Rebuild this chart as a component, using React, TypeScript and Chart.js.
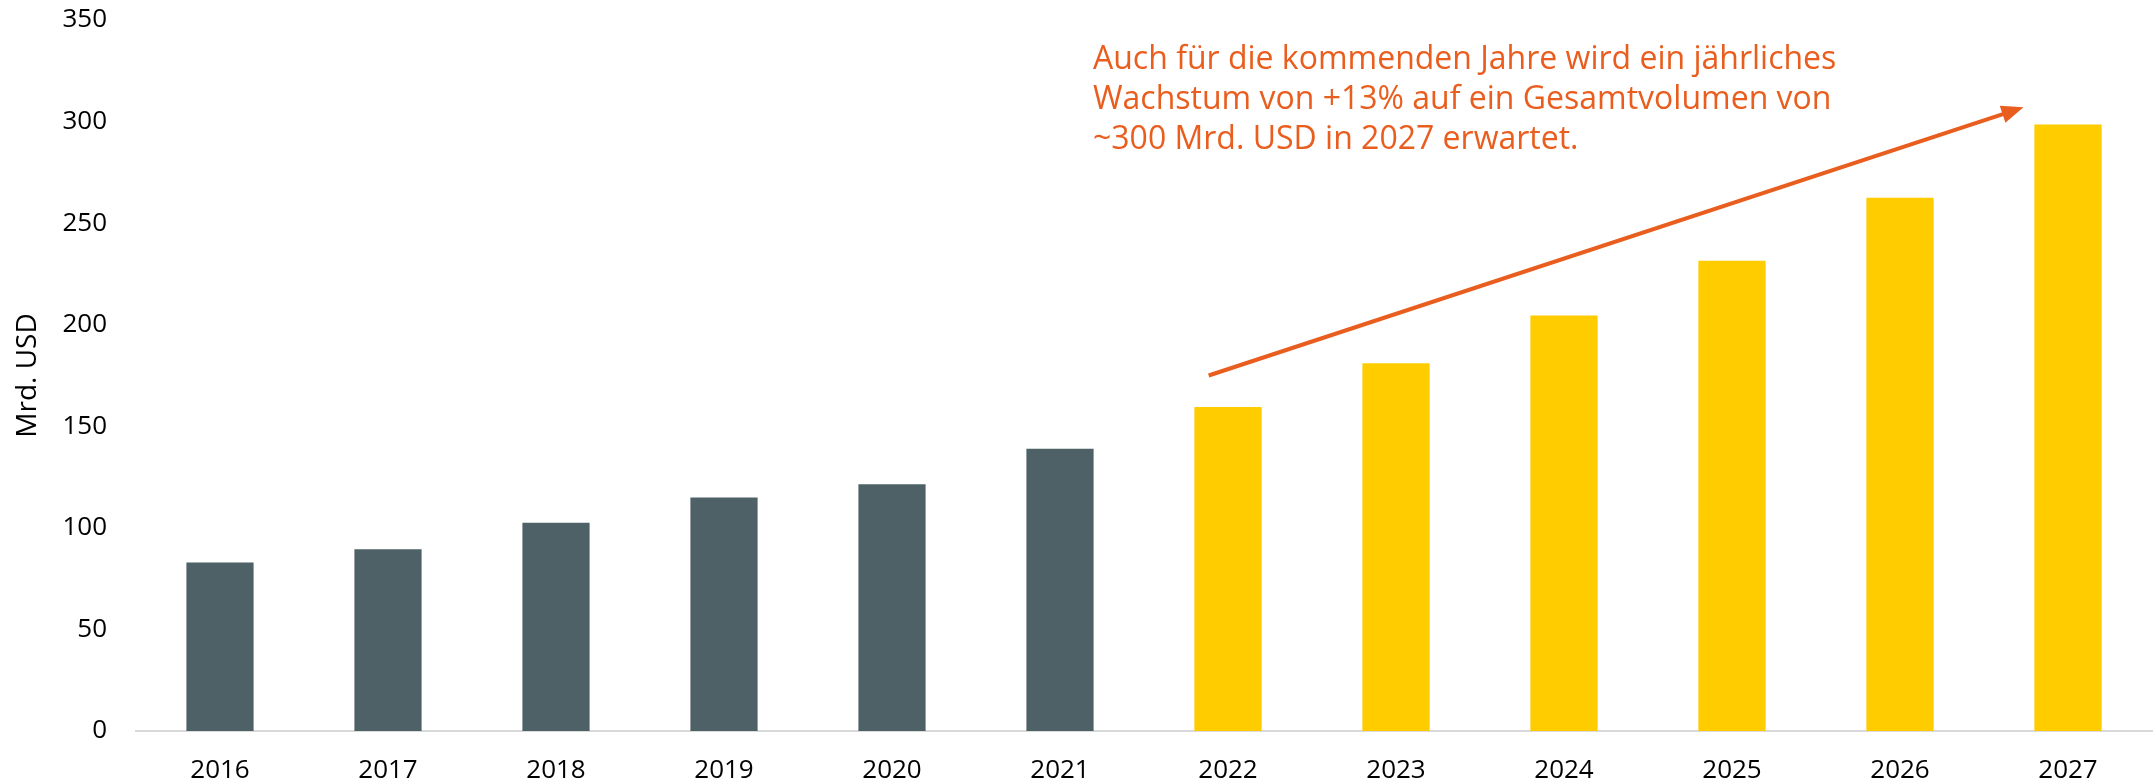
import React, { useEffect, useRef } from "react";
import { Chart, registerables } from "chart.js";

Chart.register(...registerables);

const years = ["2016", "2017", "2018", "2019", "2020", "2021", "2022", "2023", "2024", "2025", "2026", "2027"];
const volumes = [83, 89.5, 102.5, 115, 121.5, 139, 159.5, 181, 204.5, 231.5, 262.5, 298.5];
const isForecast = [false, false, false, false, false, false, true, true, true, true, true, true];
const yTicks = [0, 50, 100, 150, 200, 250, 300, 350];
const annotationLines = [
  "Auch für die kommenden Jahre wird ein jährliches",
  "Wachstum von +13% auf ein Gesamtvolumen von",
  "~300 Mrd. USD in 2027 erwartet.",
];
// arrow anchored to category index (+ fraction of category width) and value
const arrowStart = { index: 6, frac: -0.115, value: 175 };
const arrowEnd = { index: 11, frac: -0.265, value: 307 };

const DARK = "#4D6166";
const YELLOW = "#FFCC00";
const ORANGE = "#E95E1E";
const FONT = "'Open Sans', sans-serif";

const annotationPlugin = {
  id: "annotationPlugin",
  afterDatasetsDraw(chart: any) {
    const { ctx, scales } = chart;
    const xs = scales.x;
    const ys = scales.y;
    const cw = xs.getPixelForValue(1) - xs.getPixelForValue(0);
    const x1 = xs.getPixelForValue(arrowStart.index) + arrowStart.frac * cw;
    const y1 = ys.getPixelForValue(arrowStart.value);
    const x2 = xs.getPixelForValue(arrowEnd.index) + arrowEnd.frac * cw;
    const y2 = ys.getPixelForValue(arrowEnd.value);
    const ang = Math.atan2(y2 - y1, x2 - x1);
    const headLen = 22;
    const headW = 9;
    ctx.save();
    ctx.strokeStyle = ORANGE;
    ctx.fillStyle = ORANGE;
    ctx.lineWidth = 4;
    ctx.beginPath();
    ctx.moveTo(x1, y1);
    ctx.lineTo(x2 - Math.cos(ang) * (headLen - 2), y2 - Math.sin(ang) * (headLen - 2));
    ctx.stroke();
    const bx = x2 - Math.cos(ang) * headLen;
    const by = y2 - Math.sin(ang) * headLen;
    ctx.beginPath();
    ctx.moveTo(x2, y2);
    ctx.lineTo(bx + Math.sin(ang) * headW, by - Math.cos(ang) * headW);
    ctx.lineTo(bx - Math.sin(ang) * headW, by + Math.cos(ang) * headW);
    ctx.closePath();
    ctx.fill();

    // annotation text
    ctx.font = `32px ${FONT}`;
    ctx.textAlign = "left";
    ctx.textBaseline = "alphabetic";
    const tx = xs.getPixelForValue(6) - 135;
    const ty = 69;
    annotationLines.forEach((line, i) => {
      ctx.fillText(line, tx, ty + i * 40);
    });
    ctx.restore();
  },
};

export default function App() {
  const ref = useRef<HTMLCanvasElement | null>(null);

  useEffect(() => {
    document.body.style.margin = "0";
    const canvas = ref.current;
    if (!canvas) return;
    const chart = new Chart(canvas, {
      type: "bar",
      data: {
        labels: years,
        datasets: [
          {
            label: "Mrd. USD",
            data: volumes,
            backgroundColor: isForecast.map((f) => (f ? YELLOW : DARK)),
            barPercentage: 0.4,
            categoryPercentage: 1,
          },
        ],
      },
      options: {
        animation: false,
        responsive: false,
        maintainAspectRatio: false,
        layout: { padding: { top: 20, right: 1, left: 0, bottom: 0 } },
        plugins: {
          legend: { display: false },
          tooltip: { enabled: false },
        },
        scales: {
          x: {
            grid: { display: false, drawTicks: false },
            border: { display: true, color: "#D9D9D9", width: 2 },
            ticks: {
              color: "#000",
              font: { family: FONT, size: 26 },
              padding: 24,
              maxRotation: 0,
              autoSkip: false,
            },
            afterFit(scale: any) {
              scale.height = 51;
              scale.paddingLeft = 0;
              scale.paddingRight = 0;
            },
          },
          y: {
            min: 0,
            max: 350,
            afterBuildTicks(scale: any) {
              scale.ticks = yTicks.map((v) => ({ value: v }));
            },
            grid: { display: false, drawTicks: false },
            border: { display: false },
            ticks: {
              color: "#000",
              font: { family: FONT, size: 26 },
              padding: 29,
            },
            title: {
              display: true,
              text: "Mrd. USD",
              color: "#000",
              font: { family: FONT, size: 28 },
              padding: { top: 11, bottom: 0 },
            },
            afterFit(scale: any) {
              scale.width = 136;
              scale.paddingTop = 0;
              scale.paddingBottom = 0;
            },
          },
        },
      },
      plugins: [annotationPlugin],
    });
    return () => chart.destroy();
  }, []);

  return (
    <div style={{ position: "fixed", left: 0, top: 0, width: 2153, height: 782, background: "#fff" }}>
      <canvas ref={ref} width={2153} height={782} style={{ display: "block", width: 2153, height: 782 }} />
    </div>
  );
}
